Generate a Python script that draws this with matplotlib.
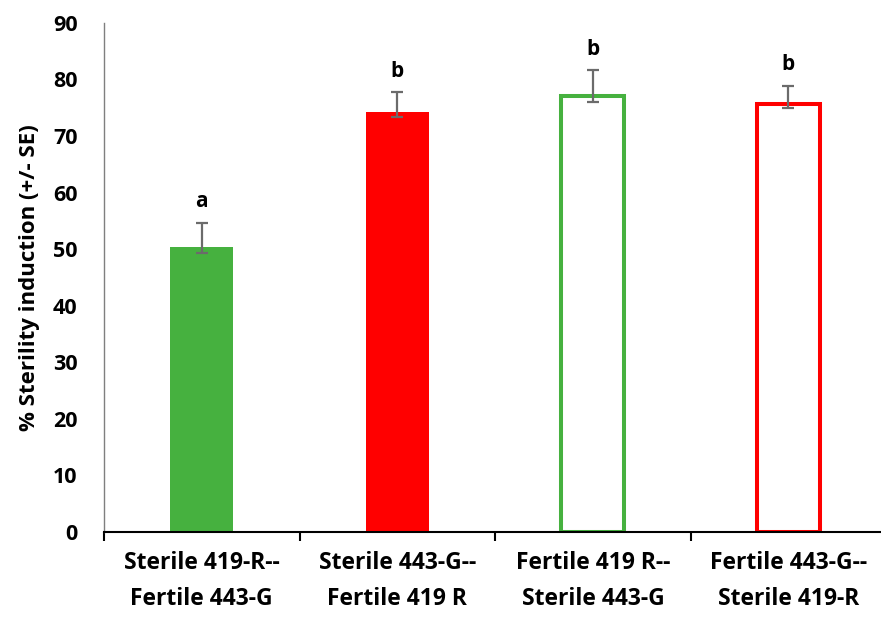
import matplotlib
matplotlib.use("Agg")
import matplotlib.pyplot as plt
import numpy as np

plt.rcParams['font.family'] = ['Open Sans', 'DejaVu Sans']

categories = ["Sterile 419-R--\nFertile 443-G", "Sterile 443-G--\nFertile 419 R",
              "Fertile 419 R--\nSterile 443-G", "Fertile 443-G--\nSterile 419-R"]
values = [50.3, 74.3, 77.0, 75.7]
err_low = [0.9, 1.0, 0.9, 0.8]
err_high = [4.4, 3.5, 4.6, 3.2]
letters = ["a", "b", "b", "b"]
colors = ["#46b13f", "#ff0000", "#46b13f", "#ff0000"]
filled = [True, True, False, False]

fig = plt.figure(figsize=(8.81, 6.19), dpi=100)
ax = fig.add_axes([0.118, 0.1405, 0.888, 0.8225])

x = np.arange(len(categories))
width = 0.322
for xi, v, c, f in zip(x, values, colors, filled):
    if f:
        ax.bar(xi, v, width=width, color=c, edgecolor='none', zorder=2)
    else:
        ax.bar(xi, v, width=width, facecolor='white', edgecolor=c, linewidth=2.9, zorder=2)

ax.errorbar(x, values, yerr=[err_low, err_high], fmt='none', ecolor='#6b6b6b',
            elinewidth=1.6, capsize=4, capthick=1.6, zorder=3)

for xi, v, eh, t in zip(x, values, err_high, letters):
    ax.annotate(t, (xi, v + eh), xytext=(0, 7.5), textcoords='offset points',
                ha='center', va='bottom', fontsize=15, fontweight='bold')

ax.set_xlim(-0.5, 3.5)
ax.set_ylim(0, 90)
ax.set_yticks(np.arange(0, 91, 10))
ax.tick_params(axis='y', length=0, pad=19, labelsize=15.5)
for lab in ax.get_yticklabels():
    lab.set_fontweight('bold')

ax.set_xticks(x)
ax.set_xticklabels(categories, fontsize=16.5, fontweight='bold', linespacing=1.65)
ax.tick_params(axis='x', which='major', length=0, pad=14)
ax.set_xticks(np.arange(-0.5, 4.0, 1.0), minor=True)
ax.tick_params(axis='x', which='minor', length=6.5, width=1.5, direction='out', color='black')

ax.spines['top'].set_visible(False)
ax.spines['right'].set_visible(False)
ax.spines['left'].set_color('#7f7f7f')
ax.spines['left'].set_linewidth(1.0)
ax.spines['bottom'].set_color('black')
ax.spines['bottom'].set_linewidth(1.5)
ax.spines['bottom'].set_zorder(4)

ax.set_ylabel("% Sterility induction (+/- SE)", fontsize=16, fontweight='bold', labelpad=9)

fig.savefig("out.png", dpi=100)
